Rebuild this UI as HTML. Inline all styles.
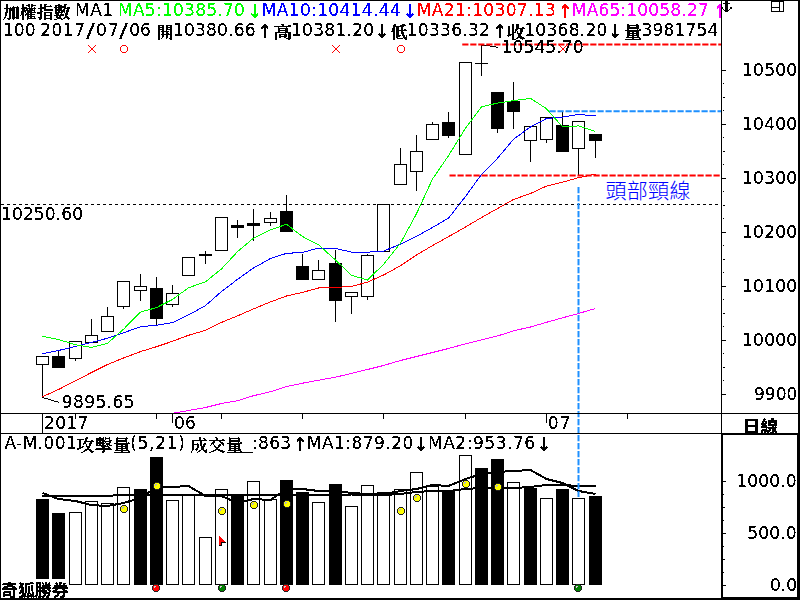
<!DOCTYPE html>
<html><head><meta charset="utf-8"><title>加權指數</title>
<style>html,body{margin:0;padding:0;background:#fff;overflow:hidden}svg{display:block}</style>
</head><body>
<svg width="800" height="600" viewBox="0 0 800 600">
<rect x="0" y="0" width="800" height="600" fill="#fff"/>
<g shape-rendering="crispEdges">
<rect x="36" y="499" width="13" height="86" fill="#000"/>
<rect x="52" y="513" width="13" height="72" fill="#000"/>
<rect x="69.5" y="512.5" width="12" height="72" fill="#fff" stroke="#000" stroke-width="1"/>
<rect x="85.5" y="501.5" width="12" height="83" fill="#fff" stroke="#000" stroke-width="1"/>
<rect x="101.5" y="503.5" width="12" height="81" fill="#fff" stroke="#000" stroke-width="1"/>
<rect x="117.5" y="487.5" width="12" height="97" fill="#fff" stroke="#000" stroke-width="1"/>
<rect x="134" y="489" width="13" height="96" fill="#000"/>
<rect x="150" y="457" width="13" height="128" fill="#000"/>
<rect x="166.5" y="500.5" width="12" height="84" fill="#fff" stroke="#000" stroke-width="1"/>
<rect x="182.5" y="495.5" width="12" height="89" fill="#fff" stroke="#000" stroke-width="1"/>
<rect x="199.5" y="537.5" width="12" height="47" fill="#fff" stroke="#000" stroke-width="1"/>
<rect x="215.5" y="489.5" width="12" height="95" fill="#fff" stroke="#000" stroke-width="1"/>
<rect x="231" y="494" width="13" height="91" fill="#000"/>
<rect x="247.5" y="481.5" width="12" height="103" fill="#fff" stroke="#000" stroke-width="1"/>
<rect x="264.5" y="499.5" width="12" height="85" fill="#fff" stroke="#000" stroke-width="1"/>
<rect x="280" y="480" width="13" height="105" fill="#000"/>
<rect x="296" y="492" width="13" height="93" fill="#000"/>
<rect x="312.5" y="502.5" width="12" height="82" fill="#fff" stroke="#000" stroke-width="1"/>
<rect x="329" y="484" width="13" height="101" fill="#000"/>
<rect x="345.5" y="506.5" width="12" height="78" fill="#fff" stroke="#000" stroke-width="1"/>
<rect x="361.5" y="485.5" width="12" height="99" fill="#fff" stroke="#000" stroke-width="1"/>
<rect x="377.5" y="492.5" width="12" height="92" fill="#fff" stroke="#000" stroke-width="1"/>
<rect x="394.5" y="489.5" width="12" height="95" fill="#fff" stroke="#000" stroke-width="1"/>
<rect x="410.5" y="472.5" width="12" height="112" fill="#fff" stroke="#000" stroke-width="1"/>
<rect x="426.5" y="486.5" width="12" height="98" fill="#fff" stroke="#000" stroke-width="1"/>
<rect x="442" y="491" width="13" height="94" fill="#000"/>
<rect x="459.5" y="455.5" width="12" height="129" fill="#fff" stroke="#000" stroke-width="1"/>
<rect x="475" y="468" width="13" height="117" fill="#000"/>
<rect x="491" y="459" width="13" height="126" fill="#000"/>
<rect x="507.5" y="482.5" width="12" height="102" fill="#fff" stroke="#000" stroke-width="1"/>
<rect x="524" y="488" width="13" height="97" fill="#000"/>
<rect x="540.5" y="498.5" width="12" height="86" fill="#fff" stroke="#000" stroke-width="1"/>
<rect x="556" y="489" width="13" height="96" fill="#000"/>
<rect x="572.5" y="498.5" width="12" height="86" fill="#fff" stroke="#000" stroke-width="1"/>
<rect x="589" y="496" width="13" height="89" fill="#000"/>
</g>
<polyline points="42.5,496 58.5,495.8 75.5,495.8 91.5,495.8 107.5,495.8 123.5,494.9 140.5,494.9 156.5,494.9 172.5,494.9 188.5,494.9 205.5,495.1 221.5,494.9 237.5,494.9 253.5,494.9 270.5,494.9 286.5,495.1 302.5,495.1 318.5,495.1 335.5,495.1 351.5,494.5 367.5,495 383.5,495 400.5,494 416.5,492 432.5,491 448.5,491 465.5,489 481.5,488 497.5,488 513.5,488 530.5,487 546.5,485 562.5,485 578.5,486 595.5,486" fill="none" stroke="#000" stroke-width="2" shape-rendering="crispEdges"/>
<polyline points="42.5,493 58.5,499 75.5,501.0 91.5,505.1 107.5,506 123.5,503 140.5,498 156.5,487 172.5,487 188.5,486 205.5,496 221.5,496 237.5,503 253.5,499 270.5,500 286.5,489 302.5,489 318.5,491 335.5,491 351.5,493 367.5,494 383.5,494 400.5,491 416.5,489 432.5,485 448.5,486 465.5,479 481.5,474 497.5,472 513.5,471 530.5,470 546.5,479 562.5,483 578.5,491 595.5,494" fill="none" stroke="#000" stroke-width="2" shape-rendering="crispEdges"/>
<path d="M122,506h1v1h-1zM123,506h1v1h-1zM124,506h1v1h-1zM125,506h1v1h-1zM121,507h1v1h-1zM122,507h1v1h-1zM123,507h1v1h-1zM124,507h1v1h-1zM125,507h1v1h-1zM126,507h1v1h-1zM121,508h1v1h-1zM122,508h1v1h-1zM123,508h1v1h-1zM124,508h1v1h-1zM125,508h1v1h-1zM126,508h1v1h-1zM121,509h1v1h-1zM122,509h1v1h-1zM123,509h1v1h-1zM124,509h1v1h-1zM125,509h1v1h-1zM126,509h1v1h-1zM121,510h1v1h-1zM122,510h1v1h-1zM123,510h1v1h-1zM124,510h1v1h-1zM125,510h1v1h-1zM126,510h1v1h-1zM122,511h1v1h-1zM123,511h1v1h-1zM124,511h1v1h-1zM125,511h1v1h-1z" fill="#ffff00" shape-rendering="crispEdges"/>
<path d="M122,505h1v1h-1zM123,505h1v1h-1zM124,505h1v1h-1zM125,505h1v1h-1zM121,506h1v1h-1zM126,506h1v1h-1zM120,507h1v1h-1zM127,507h1v1h-1zM120,508h1v1h-1zM127,508h1v1h-1zM120,509h1v1h-1zM127,509h1v1h-1zM120,510h1v1h-1zM127,510h1v1h-1zM121,511h1v1h-1zM126,511h1v1h-1zM122,512h1v1h-1zM123,512h1v1h-1zM124,512h1v1h-1zM125,512h1v1h-1z" fill="#202020" shape-rendering="crispEdges"/>
<path d="M122,507h2v1h-1v1h-1z" fill="#a8a8e0" shape-rendering="crispEdges"/>
<path d="M155,483h1v1h-1zM156,483h1v1h-1zM157,483h1v1h-1zM158,483h1v1h-1zM154,484h1v1h-1zM155,484h1v1h-1zM156,484h1v1h-1zM157,484h1v1h-1zM158,484h1v1h-1zM159,484h1v1h-1zM154,485h1v1h-1zM155,485h1v1h-1zM156,485h1v1h-1zM157,485h1v1h-1zM158,485h1v1h-1zM159,485h1v1h-1zM154,486h1v1h-1zM155,486h1v1h-1zM156,486h1v1h-1zM157,486h1v1h-1zM158,486h1v1h-1zM159,486h1v1h-1zM154,487h1v1h-1zM155,487h1v1h-1zM156,487h1v1h-1zM157,487h1v1h-1zM158,487h1v1h-1zM159,487h1v1h-1zM155,488h1v1h-1zM156,488h1v1h-1zM157,488h1v1h-1zM158,488h1v1h-1z" fill="#ffff00" shape-rendering="crispEdges"/>
<path d="M155,482h1v1h-1zM156,482h1v1h-1zM157,482h1v1h-1zM158,482h1v1h-1zM154,483h1v1h-1zM159,483h1v1h-1zM153,484h1v1h-1zM160,484h1v1h-1zM153,485h1v1h-1zM160,485h1v1h-1zM153,486h1v1h-1zM160,486h1v1h-1zM153,487h1v1h-1zM160,487h1v1h-1zM154,488h1v1h-1zM159,488h1v1h-1zM155,489h1v1h-1zM156,489h1v1h-1zM157,489h1v1h-1zM158,489h1v1h-1z" fill="#202020" shape-rendering="crispEdges"/>
<path d="M155,484h2v1h-1v1h-1z" fill="#a8a8e0" shape-rendering="crispEdges"/>
<path d="M220,508h1v1h-1zM221,508h1v1h-1zM222,508h1v1h-1zM223,508h1v1h-1zM219,509h1v1h-1zM220,509h1v1h-1zM221,509h1v1h-1zM222,509h1v1h-1zM223,509h1v1h-1zM224,509h1v1h-1zM219,510h1v1h-1zM220,510h1v1h-1zM221,510h1v1h-1zM222,510h1v1h-1zM223,510h1v1h-1zM224,510h1v1h-1zM219,511h1v1h-1zM220,511h1v1h-1zM221,511h1v1h-1zM222,511h1v1h-1zM223,511h1v1h-1zM224,511h1v1h-1zM219,512h1v1h-1zM220,512h1v1h-1zM221,512h1v1h-1zM222,512h1v1h-1zM223,512h1v1h-1zM224,512h1v1h-1zM220,513h1v1h-1zM221,513h1v1h-1zM222,513h1v1h-1zM223,513h1v1h-1z" fill="#ffff00" shape-rendering="crispEdges"/>
<path d="M220,507h1v1h-1zM221,507h1v1h-1zM222,507h1v1h-1zM223,507h1v1h-1zM219,508h1v1h-1zM224,508h1v1h-1zM218,509h1v1h-1zM225,509h1v1h-1zM218,510h1v1h-1zM225,510h1v1h-1zM218,511h1v1h-1zM225,511h1v1h-1zM218,512h1v1h-1zM225,512h1v1h-1zM219,513h1v1h-1zM224,513h1v1h-1zM220,514h1v1h-1zM221,514h1v1h-1zM222,514h1v1h-1zM223,514h1v1h-1z" fill="#202020" shape-rendering="crispEdges"/>
<path d="M220,509h2v1h-1v1h-1z" fill="#a8a8e0" shape-rendering="crispEdges"/>
<path d="M252,502h1v1h-1zM253,502h1v1h-1zM254,502h1v1h-1zM255,502h1v1h-1zM251,503h1v1h-1zM252,503h1v1h-1zM253,503h1v1h-1zM254,503h1v1h-1zM255,503h1v1h-1zM256,503h1v1h-1zM251,504h1v1h-1zM252,504h1v1h-1zM253,504h1v1h-1zM254,504h1v1h-1zM255,504h1v1h-1zM256,504h1v1h-1zM251,505h1v1h-1zM252,505h1v1h-1zM253,505h1v1h-1zM254,505h1v1h-1zM255,505h1v1h-1zM256,505h1v1h-1zM251,506h1v1h-1zM252,506h1v1h-1zM253,506h1v1h-1zM254,506h1v1h-1zM255,506h1v1h-1zM256,506h1v1h-1zM252,507h1v1h-1zM253,507h1v1h-1zM254,507h1v1h-1zM255,507h1v1h-1z" fill="#ffff00" shape-rendering="crispEdges"/>
<path d="M252,501h1v1h-1zM253,501h1v1h-1zM254,501h1v1h-1zM255,501h1v1h-1zM251,502h1v1h-1zM256,502h1v1h-1zM250,503h1v1h-1zM257,503h1v1h-1zM250,504h1v1h-1zM257,504h1v1h-1zM250,505h1v1h-1zM257,505h1v1h-1zM250,506h1v1h-1zM257,506h1v1h-1zM251,507h1v1h-1zM256,507h1v1h-1zM252,508h1v1h-1zM253,508h1v1h-1zM254,508h1v1h-1zM255,508h1v1h-1z" fill="#202020" shape-rendering="crispEdges"/>
<path d="M252,503h2v1h-1v1h-1z" fill="#a8a8e0" shape-rendering="crispEdges"/>
<path d="M285,501h1v1h-1zM286,501h1v1h-1zM287,501h1v1h-1zM288,501h1v1h-1zM284,502h1v1h-1zM285,502h1v1h-1zM286,502h1v1h-1zM287,502h1v1h-1zM288,502h1v1h-1zM289,502h1v1h-1zM284,503h1v1h-1zM285,503h1v1h-1zM286,503h1v1h-1zM287,503h1v1h-1zM288,503h1v1h-1zM289,503h1v1h-1zM284,504h1v1h-1zM285,504h1v1h-1zM286,504h1v1h-1zM287,504h1v1h-1zM288,504h1v1h-1zM289,504h1v1h-1zM284,505h1v1h-1zM285,505h1v1h-1zM286,505h1v1h-1zM287,505h1v1h-1zM288,505h1v1h-1zM289,505h1v1h-1zM285,506h1v1h-1zM286,506h1v1h-1zM287,506h1v1h-1zM288,506h1v1h-1z" fill="#ffff00" shape-rendering="crispEdges"/>
<path d="M285,500h1v1h-1zM286,500h1v1h-1zM287,500h1v1h-1zM288,500h1v1h-1zM284,501h1v1h-1zM289,501h1v1h-1zM283,502h1v1h-1zM290,502h1v1h-1zM283,503h1v1h-1zM290,503h1v1h-1zM283,504h1v1h-1zM290,504h1v1h-1zM283,505h1v1h-1zM290,505h1v1h-1zM284,506h1v1h-1zM289,506h1v1h-1zM285,507h1v1h-1zM286,507h1v1h-1zM287,507h1v1h-1zM288,507h1v1h-1z" fill="#202020" shape-rendering="crispEdges"/>
<path d="M285,502h2v1h-1v1h-1z" fill="#a8a8e0" shape-rendering="crispEdges"/>
<path d="M399,508h1v1h-1zM400,508h1v1h-1zM401,508h1v1h-1zM402,508h1v1h-1zM398,509h1v1h-1zM399,509h1v1h-1zM400,509h1v1h-1zM401,509h1v1h-1zM402,509h1v1h-1zM403,509h1v1h-1zM398,510h1v1h-1zM399,510h1v1h-1zM400,510h1v1h-1zM401,510h1v1h-1zM402,510h1v1h-1zM403,510h1v1h-1zM398,511h1v1h-1zM399,511h1v1h-1zM400,511h1v1h-1zM401,511h1v1h-1zM402,511h1v1h-1zM403,511h1v1h-1zM398,512h1v1h-1zM399,512h1v1h-1zM400,512h1v1h-1zM401,512h1v1h-1zM402,512h1v1h-1zM403,512h1v1h-1zM399,513h1v1h-1zM400,513h1v1h-1zM401,513h1v1h-1zM402,513h1v1h-1z" fill="#ffff00" shape-rendering="crispEdges"/>
<path d="M399,507h1v1h-1zM400,507h1v1h-1zM401,507h1v1h-1zM402,507h1v1h-1zM398,508h1v1h-1zM403,508h1v1h-1zM397,509h1v1h-1zM404,509h1v1h-1zM397,510h1v1h-1zM404,510h1v1h-1zM397,511h1v1h-1zM404,511h1v1h-1zM397,512h1v1h-1zM404,512h1v1h-1zM398,513h1v1h-1zM403,513h1v1h-1zM399,514h1v1h-1zM400,514h1v1h-1zM401,514h1v1h-1zM402,514h1v1h-1z" fill="#202020" shape-rendering="crispEdges"/>
<path d="M399,509h2v1h-1v1h-1z" fill="#a8a8e0" shape-rendering="crispEdges"/>
<path d="M415,495h1v1h-1zM416,495h1v1h-1zM417,495h1v1h-1zM418,495h1v1h-1zM414,496h1v1h-1zM415,496h1v1h-1zM416,496h1v1h-1zM417,496h1v1h-1zM418,496h1v1h-1zM419,496h1v1h-1zM414,497h1v1h-1zM415,497h1v1h-1zM416,497h1v1h-1zM417,497h1v1h-1zM418,497h1v1h-1zM419,497h1v1h-1zM414,498h1v1h-1zM415,498h1v1h-1zM416,498h1v1h-1zM417,498h1v1h-1zM418,498h1v1h-1zM419,498h1v1h-1zM414,499h1v1h-1zM415,499h1v1h-1zM416,499h1v1h-1zM417,499h1v1h-1zM418,499h1v1h-1zM419,499h1v1h-1zM415,500h1v1h-1zM416,500h1v1h-1zM417,500h1v1h-1zM418,500h1v1h-1z" fill="#ffff00" shape-rendering="crispEdges"/>
<path d="M415,494h1v1h-1zM416,494h1v1h-1zM417,494h1v1h-1zM418,494h1v1h-1zM414,495h1v1h-1zM419,495h1v1h-1zM413,496h1v1h-1zM420,496h1v1h-1zM413,497h1v1h-1zM420,497h1v1h-1zM413,498h1v1h-1zM420,498h1v1h-1zM413,499h1v1h-1zM420,499h1v1h-1zM414,500h1v1h-1zM419,500h1v1h-1zM415,501h1v1h-1zM416,501h1v1h-1zM417,501h1v1h-1zM418,501h1v1h-1z" fill="#202020" shape-rendering="crispEdges"/>
<path d="M415,496h2v1h-1v1h-1z" fill="#a8a8e0" shape-rendering="crispEdges"/>
<path d="M464,481h1v1h-1zM465,481h1v1h-1zM466,481h1v1h-1zM467,481h1v1h-1zM463,482h1v1h-1zM464,482h1v1h-1zM465,482h1v1h-1zM466,482h1v1h-1zM467,482h1v1h-1zM468,482h1v1h-1zM463,483h1v1h-1zM464,483h1v1h-1zM465,483h1v1h-1zM466,483h1v1h-1zM467,483h1v1h-1zM468,483h1v1h-1zM463,484h1v1h-1zM464,484h1v1h-1zM465,484h1v1h-1zM466,484h1v1h-1zM467,484h1v1h-1zM468,484h1v1h-1zM463,485h1v1h-1zM464,485h1v1h-1zM465,485h1v1h-1zM466,485h1v1h-1zM467,485h1v1h-1zM468,485h1v1h-1zM464,486h1v1h-1zM465,486h1v1h-1zM466,486h1v1h-1zM467,486h1v1h-1z" fill="#ffff00" shape-rendering="crispEdges"/>
<path d="M464,480h1v1h-1zM465,480h1v1h-1zM466,480h1v1h-1zM467,480h1v1h-1zM463,481h1v1h-1zM468,481h1v1h-1zM462,482h1v1h-1zM469,482h1v1h-1zM462,483h1v1h-1zM469,483h1v1h-1zM462,484h1v1h-1zM469,484h1v1h-1zM462,485h1v1h-1zM469,485h1v1h-1zM463,486h1v1h-1zM468,486h1v1h-1zM464,487h1v1h-1zM465,487h1v1h-1zM466,487h1v1h-1zM467,487h1v1h-1z" fill="#202020" shape-rendering="crispEdges"/>
<path d="M464,482h2v1h-1v1h-1z" fill="#a8a8e0" shape-rendering="crispEdges"/>
<path d="M496,484h1v1h-1zM497,484h1v1h-1zM498,484h1v1h-1zM499,484h1v1h-1zM495,485h1v1h-1zM496,485h1v1h-1zM497,485h1v1h-1zM498,485h1v1h-1zM499,485h1v1h-1zM500,485h1v1h-1zM495,486h1v1h-1zM496,486h1v1h-1zM497,486h1v1h-1zM498,486h1v1h-1zM499,486h1v1h-1zM500,486h1v1h-1zM495,487h1v1h-1zM496,487h1v1h-1zM497,487h1v1h-1zM498,487h1v1h-1zM499,487h1v1h-1zM500,487h1v1h-1zM495,488h1v1h-1zM496,488h1v1h-1zM497,488h1v1h-1zM498,488h1v1h-1zM499,488h1v1h-1zM500,488h1v1h-1zM496,489h1v1h-1zM497,489h1v1h-1zM498,489h1v1h-1zM499,489h1v1h-1z" fill="#ffff00" shape-rendering="crispEdges"/>
<path d="M496,483h1v1h-1zM497,483h1v1h-1zM498,483h1v1h-1zM499,483h1v1h-1zM495,484h1v1h-1zM500,484h1v1h-1zM494,485h1v1h-1zM501,485h1v1h-1zM494,486h1v1h-1zM501,486h1v1h-1zM494,487h1v1h-1zM501,487h1v1h-1zM494,488h1v1h-1zM501,488h1v1h-1zM495,489h1v1h-1zM500,489h1v1h-1zM496,490h1v1h-1zM497,490h1v1h-1zM498,490h1v1h-1zM499,490h1v1h-1z" fill="#202020" shape-rendering="crispEdges"/>
<path d="M496,485h2v1h-1v1h-1z" fill="#a8a8e0" shape-rendering="crispEdges"/>
<path d="M154,585h1v1h-1zM155,585h1v1h-1zM156,585h1v1h-1zM157,585h1v1h-1zM153,586h1v1h-1zM154,586h1v1h-1zM155,586h1v1h-1zM156,586h1v1h-1zM157,586h1v1h-1zM158,586h1v1h-1zM153,587h1v1h-1zM154,587h1v1h-1zM155,587h1v1h-1zM156,587h1v1h-1zM157,587h1v1h-1zM158,587h1v1h-1zM153,588h1v1h-1zM154,588h1v1h-1zM155,588h1v1h-1zM156,588h1v1h-1zM157,588h1v1h-1zM158,588h1v1h-1zM153,589h1v1h-1zM154,589h1v1h-1zM155,589h1v1h-1zM156,589h1v1h-1zM157,589h1v1h-1zM158,589h1v1h-1zM154,590h1v1h-1zM155,590h1v1h-1zM156,590h1v1h-1zM157,590h1v1h-1z" fill="#ff0000" shape-rendering="crispEdges"/>
<path d="M154,584h1v1h-1zM155,584h1v1h-1zM156,584h1v1h-1zM157,584h1v1h-1zM153,585h1v1h-1zM158,585h1v1h-1zM152,586h1v1h-1zM159,586h1v1h-1zM152,587h1v1h-1zM159,587h1v1h-1zM152,588h1v1h-1zM159,588h1v1h-1zM152,589h1v1h-1zM159,589h1v1h-1zM153,590h1v1h-1zM158,590h1v1h-1zM154,591h1v1h-1zM155,591h1v1h-1zM156,591h1v1h-1zM157,591h1v1h-1z" fill="#202020" shape-rendering="crispEdges"/>
<path d="M154,586h2v1h-1v1h-1z" fill="#b0e0e0" shape-rendering="crispEdges"/>
<path d="M284,585h1v1h-1zM285,585h1v1h-1zM286,585h1v1h-1zM287,585h1v1h-1zM283,586h1v1h-1zM284,586h1v1h-1zM285,586h1v1h-1zM286,586h1v1h-1zM287,586h1v1h-1zM288,586h1v1h-1zM283,587h1v1h-1zM284,587h1v1h-1zM285,587h1v1h-1zM286,587h1v1h-1zM287,587h1v1h-1zM288,587h1v1h-1zM283,588h1v1h-1zM284,588h1v1h-1zM285,588h1v1h-1zM286,588h1v1h-1zM287,588h1v1h-1zM288,588h1v1h-1zM283,589h1v1h-1zM284,589h1v1h-1zM285,589h1v1h-1zM286,589h1v1h-1zM287,589h1v1h-1zM288,589h1v1h-1zM284,590h1v1h-1zM285,590h1v1h-1zM286,590h1v1h-1zM287,590h1v1h-1z" fill="#ff0000" shape-rendering="crispEdges"/>
<path d="M284,584h1v1h-1zM285,584h1v1h-1zM286,584h1v1h-1zM287,584h1v1h-1zM283,585h1v1h-1zM288,585h1v1h-1zM282,586h1v1h-1zM289,586h1v1h-1zM282,587h1v1h-1zM289,587h1v1h-1zM282,588h1v1h-1zM289,588h1v1h-1zM282,589h1v1h-1zM289,589h1v1h-1zM283,590h1v1h-1zM288,590h1v1h-1zM284,591h1v1h-1zM285,591h1v1h-1zM286,591h1v1h-1zM287,591h1v1h-1z" fill="#202020" shape-rendering="crispEdges"/>
<path d="M284,586h2v1h-1v1h-1z" fill="#b0e0e0" shape-rendering="crispEdges"/>
<path d="M220,585h1v1h-1zM221,585h1v1h-1zM222,585h1v1h-1zM223,585h1v1h-1zM219,586h1v1h-1zM220,586h1v1h-1zM221,586h1v1h-1zM222,586h1v1h-1zM223,586h1v1h-1zM224,586h1v1h-1zM219,587h1v1h-1zM220,587h1v1h-1zM221,587h1v1h-1zM222,587h1v1h-1zM223,587h1v1h-1zM224,587h1v1h-1zM219,588h1v1h-1zM220,588h1v1h-1zM221,588h1v1h-1zM222,588h1v1h-1zM223,588h1v1h-1zM224,588h1v1h-1zM219,589h1v1h-1zM220,589h1v1h-1zM221,589h1v1h-1zM222,589h1v1h-1zM223,589h1v1h-1zM224,589h1v1h-1zM220,590h1v1h-1zM221,590h1v1h-1zM222,590h1v1h-1zM223,590h1v1h-1z" fill="#008000" shape-rendering="crispEdges"/>
<path d="M220,584h1v1h-1zM221,584h1v1h-1zM222,584h1v1h-1zM223,584h1v1h-1zM219,585h1v1h-1zM224,585h1v1h-1zM218,586h1v1h-1zM225,586h1v1h-1zM218,587h1v1h-1zM225,587h1v1h-1zM218,588h1v1h-1zM225,588h1v1h-1zM218,589h1v1h-1zM225,589h1v1h-1zM219,590h1v1h-1zM224,590h1v1h-1zM220,591h1v1h-1zM221,591h1v1h-1zM222,591h1v1h-1zM223,591h1v1h-1z" fill="#202020" shape-rendering="crispEdges"/>
<path d="M220,586h2v1h-1v1h-1z" fill="#e0c0e0" shape-rendering="crispEdges"/>
<path d="M576,585h1v1h-1zM577,585h1v1h-1zM578,585h1v1h-1zM579,585h1v1h-1zM575,586h1v1h-1zM576,586h1v1h-1zM577,586h1v1h-1zM578,586h1v1h-1zM579,586h1v1h-1zM580,586h1v1h-1zM575,587h1v1h-1zM576,587h1v1h-1zM577,587h1v1h-1zM578,587h1v1h-1zM579,587h1v1h-1zM580,587h1v1h-1zM575,588h1v1h-1zM576,588h1v1h-1zM577,588h1v1h-1zM578,588h1v1h-1zM579,588h1v1h-1zM580,588h1v1h-1zM575,589h1v1h-1zM576,589h1v1h-1zM577,589h1v1h-1zM578,589h1v1h-1zM579,589h1v1h-1zM580,589h1v1h-1zM576,590h1v1h-1zM577,590h1v1h-1zM578,590h1v1h-1zM579,590h1v1h-1z" fill="#008000" shape-rendering="crispEdges"/>
<path d="M576,584h1v1h-1zM577,584h1v1h-1zM578,584h1v1h-1zM579,584h1v1h-1zM575,585h1v1h-1zM580,585h1v1h-1zM574,586h1v1h-1zM581,586h1v1h-1zM574,587h1v1h-1zM581,587h1v1h-1zM574,588h1v1h-1zM581,588h1v1h-1zM574,589h1v1h-1zM581,589h1v1h-1zM575,590h1v1h-1zM580,590h1v1h-1zM576,591h1v1h-1zM577,591h1v1h-1zM578,591h1v1h-1zM579,591h1v1h-1z" fill="#202020" shape-rendering="crispEdges"/>
<path d="M576,586h2v1h-1v1h-1z" fill="#e0c0e0" shape-rendering="crispEdges"/>
<path d="M219,536h1v1h-1zM219,537h2v1h-2zM219,538h3v1h-3zM219,539h4v1h-4zM219,540h5v1h-5zM219,541h6v1h-6zM219,542h2v3h-2z" fill="#ff0000" shape-rendering="crispEdges"/>
<path d="M221,542h5v1h-4v3h-3v-1h2z" fill="#000" shape-rendering="crispEdges"/>
<rect x="1" y="579" width="68" height="19" fill="#fff"/>
<g shape-rendering="crispEdges">
<rect x="42" y="365" width="1" height="33" fill="#000"/>
<rect x="36.5" y="356.5" width="12" height="8" fill="#fff" stroke="#000"/>
<rect x="58" y="350" width="1" height="6" fill="#000"/>
<rect x="52" y="356" width="13" height="12" fill="#000"/>
<rect x="75" y="359" width="1" height="2" fill="#000"/>
<rect x="69.5" y="341.5" width="12" height="17" fill="#fff" stroke="#000"/>
<rect x="91" y="319" width="1" height="16" fill="#000"/>
<rect x="85.5" y="335.5" width="12" height="7" fill="#fff" stroke="#000"/>
<rect x="107" y="307" width="1" height="9" fill="#000"/>
<rect x="101.5" y="316.5" width="12" height="15" fill="#fff" stroke="#000"/>
<rect x="123" y="307" width="1" height="2" fill="#000"/>
<rect x="117.5" y="281.5" width="12" height="25" fill="#fff" stroke="#000"/>
<rect x="140" y="274" width="1" height="12" fill="#000"/>
<rect x="140" y="291" width="1" height="10" fill="#000"/>
<rect x="134.5" y="286.5" width="12" height="4" fill="#fff" stroke="#000"/>
<rect x="156" y="277" width="1" height="11" fill="#000"/>
<rect x="156" y="319" width="1" height="7" fill="#000"/>
<rect x="150" y="288" width="13" height="31" fill="#000"/>
<rect x="172" y="285" width="1" height="8" fill="#000"/>
<rect x="172" y="305" width="1" height="2" fill="#000"/>
<rect x="166.5" y="293.5" width="12" height="11" fill="#fff" stroke="#000"/>
<rect x="182.5" y="257.5" width="12" height="18" fill="#fff" stroke="#000"/>
<rect x="205" y="251" width="1" height="3" fill="#000"/>
<rect x="205" y="256" width="1" height="8" fill="#000"/>
<rect x="199" y="254" width="13" height="2" fill="#000"/>
<rect x="215.5" y="217.5" width="12" height="33" fill="#fff" stroke="#000"/>
<rect x="237" y="220" width="1" height="5" fill="#000"/>
<rect x="237" y="228" width="1" height="10" fill="#000"/>
<rect x="231" y="225" width="13" height="3" fill="#000"/>
<rect x="253" y="209" width="1" height="14" fill="#000"/>
<rect x="253" y="226" width="1" height="15" fill="#000"/>
<rect x="247" y="223" width="13" height="3" fill="#000"/>
<rect x="270" y="212" width="1" height="6" fill="#000"/>
<rect x="270" y="223" width="1" height="3" fill="#000"/>
<rect x="264.5" y="218.5" width="12" height="4" fill="#fff" stroke="#000"/>
<rect x="286" y="195" width="1" height="16" fill="#000"/>
<rect x="280" y="211" width="13" height="21" fill="#000"/>
<rect x="302" y="254" width="1" height="12" fill="#000"/>
<rect x="296" y="266" width="13" height="14" fill="#000"/>
<rect x="318" y="260" width="1" height="10" fill="#000"/>
<rect x="312.5" y="270.5" width="12" height="9" fill="#fff" stroke="#000"/>
<rect x="335" y="250" width="1" height="13" fill="#000"/>
<rect x="335" y="301" width="1" height="21" fill="#000"/>
<rect x="329" y="263" width="13" height="38" fill="#000"/>
<rect x="351" y="297" width="1" height="17" fill="#000"/>
<rect x="345.5" y="292.5" width="12" height="4" fill="#fff" stroke="#000"/>
<rect x="367" y="254" width="1" height="1" fill="#000"/>
<rect x="367" y="297" width="1" height="3" fill="#000"/>
<rect x="361.5" y="255.5" width="12" height="41" fill="#fff" stroke="#000"/>
<rect x="377.5" y="204.5" width="12" height="47" fill="#fff" stroke="#000"/>
<rect x="400" y="148" width="1" height="16" fill="#000"/>
<rect x="394.5" y="164.5" width="12" height="20" fill="#fff" stroke="#000"/>
<rect x="416" y="135" width="1" height="16" fill="#000"/>
<rect x="416" y="172" width="1" height="19" fill="#000"/>
<rect x="410.5" y="151.5" width="12" height="20" fill="#fff" stroke="#000"/>
<rect x="432" y="122" width="1" height="2" fill="#000"/>
<rect x="426.5" y="124.5" width="12" height="15" fill="#fff" stroke="#000"/>
<rect x="448" y="112" width="1" height="10" fill="#000"/>
<rect x="448" y="136" width="1" height="2" fill="#000"/>
<rect x="442" y="122" width="13" height="14" fill="#000"/>
<rect x="459.5" y="62.5" width="12" height="92" fill="#fff" stroke="#000"/>
<rect x="481" y="45" width="1" height="18" fill="#000"/>
<rect x="481" y="64" width="1" height="12" fill="#000"/>
<rect x="475" y="63" width="13" height="1" fill="#000"/>
<rect x="497" y="129" width="1" height="4" fill="#000"/>
<rect x="491" y="92" width="13" height="37" fill="#000"/>
<rect x="513" y="82" width="1" height="19" fill="#000"/>
<rect x="513" y="112" width="1" height="17" fill="#000"/>
<rect x="507" y="101" width="13" height="11" fill="#000"/>
<rect x="530" y="141" width="1" height="21" fill="#000"/>
<rect x="524.5" y="126.5" width="12" height="14" fill="#fff" stroke="#000"/>
<rect x="546" y="140" width="1" height="3" fill="#000"/>
<rect x="540.5" y="117.5" width="12" height="22" fill="#fff" stroke="#000"/>
<rect x="562" y="111" width="1" height="14" fill="#000"/>
<rect x="556" y="125" width="13" height="27" fill="#000"/>
<rect x="578" y="149" width="1" height="27" fill="#000"/>
<rect x="572.5" y="121.5" width="12" height="27" fill="#fff" stroke="#000"/>
<rect x="595" y="141" width="1" height="17" fill="#000"/>
<rect x="589" y="134" width="13" height="7" fill="#000"/>
</g>
<polyline points="172.5,413.3 188.5,410.5 205.5,407.5 221.5,403.5 237.5,400.7 253.5,395.7 270.5,391.7 286.5,386.6 302.5,383.2 318.5,380.2 335.5,377.2 351.5,373.4 367.5,369.5 383.5,365.5 400.5,360.5 416.5,356.5 432.5,352.5 448.5,348.5 465.5,343.8 481.5,339.8 497.5,336 513.5,330.8 530.5,327 546.5,322.3 562.5,317.8 578.5,313.5 595.5,308.5" fill="none" stroke="#ff00ff" stroke-width="1" shape-rendering="crispEdges"/>
<polyline points="42.5,396.7 58.5,389.5 75.5,380.8 91.5,372.5 107.5,364.5 123.5,358 140.5,351.6 156.5,346.7 172.5,341.3 188.5,335.3 205.5,330.3 221.5,322.4 237.5,315.9 253.5,308.9 270.5,301.9 286.5,296 302.5,292.4 318.5,288 335.5,287.4 351.5,286.4 367.5,282.17857142857144 383.5,275.0595238095238 400.5,265.7261904761905 416.5,255.05238095238096 432.5,245.5285714285714 448.5,236.6690476190476 465.5,226.95476190476188 481.5,217.5952380952381 497.5,208.52142857142857 513.5,199.48809523809524 530.5,193.46904761904761 546.5,186.08333333333331 562.5,182.21190476190475 578.5,177.68809523809523 595.5,174.1642857142857" fill="none" stroke="#ff0000" stroke-width="1" shape-rendering="crispEdges"/>
<polyline points="42.5,353.7 58.5,350.5 75.5,346.4 91.5,342.5 107.5,338.2 123.5,332.8 140.5,326.8 156.5,325.2 172.5,322.6 188.5,314.95 205.5,305.6 221.5,291.5 237.5,279.35 253.5,268.0 270.5,258.5 286.5,253.35 302.5,252.45 318.5,248.05 335.5,248.4 351.5,252.15 367.5,252.15 383.5,251.1 400.5,244.15 416.5,236.45 432.5,227.4 448.5,218.2 465.5,196.45 481.5,174.35 497.5,158.3 513.5,139.25 530.5,126.94999999999999 546.5,118.55 562.5,117.05 578.5,114.4 595.5,116.0" fill="none" stroke="#0000ff" stroke-width="1" shape-rendering="crispEdges"/>
<polyline points="42.5,336.2 58.5,339.5 75.5,344.7 91.5,347.5 107.5,343.25 123.5,329.25 140.5,312.05 156.5,307.6 172.5,299.5 188.5,287.75 205.5,281.8 221.5,268.9 237.5,251.65 253.5,238.14999999999998 270.5,229.85000000000002 286.5,224.25 302.5,236.55 318.5,244.75 335.5,260.05 351.5,275.25 367.5,280.04999999999995 383.5,264.35 400.5,243.25 416.5,213.7 432.5,179.05 448.5,155.7 465.5,128.2 481.5,106.8 497.5,103.1 513.5,100.65 530.5,98.35 546.5,108.75 562.5,126.85 578.5,125.95 595.5,131.4" fill="none" stroke="#00ff00" stroke-width="1" shape-rendering="crispEdges"/>
<g shape-rendering="crispEdges">
<line x1="1" y1="204.5" x2="721" y2="204.5" stroke="#000" stroke-width="1" stroke-dasharray="3,3"/>
</g>
<polyline points="42.5,397.5 59.5,402.5" stroke="#000" stroke-width="1" fill="none" shape-rendering="crispEdges"/>
<polyline points="481.5,45.5 490,46 498.5,47.5" stroke="#000" stroke-width="1" fill="none" shape-rendering="crispEdges"/>
<path d="M88,45h1v1h-1zM95,45h1v1h-1zM89,46h1v1h-1zM94,46h1v1h-1zM90,47h1v1h-1zM93,47h1v1h-1zM91,48h1v1h-1zM92,48h1v1h-1zM92,49h1v1h-1zM91,49h1v1h-1zM93,50h1v1h-1zM90,50h1v1h-1zM94,51h1v1h-1zM89,51h1v1h-1zM95,52h1v1h-1zM88,52h1v1h-1z" fill="#ff0000" shape-rendering="crispEdges"/>
<path d="M122,45h1v1h-1zM123,45h1v1h-1zM124,45h1v1h-1zM125,45h1v1h-1zM121,46h1v1h-1zM126,46h1v1h-1zM120,47h1v1h-1zM127,47h1v1h-1zM120,48h1v1h-1zM127,48h1v1h-1zM120,49h1v1h-1zM127,49h1v1h-1zM120,50h1v1h-1zM127,50h1v1h-1zM121,51h1v1h-1zM126,51h1v1h-1zM122,52h1v1h-1zM123,52h1v1h-1zM124,52h1v1h-1zM125,52h1v1h-1z" fill="#ff0000" shape-rendering="crispEdges"/>
<path d="M332,45h1v1h-1zM339,45h1v1h-1zM333,46h1v1h-1zM338,46h1v1h-1zM334,47h1v1h-1zM337,47h1v1h-1zM335,48h1v1h-1zM336,48h1v1h-1zM336,49h1v1h-1zM335,49h1v1h-1zM337,50h1v1h-1zM334,50h1v1h-1zM338,51h1v1h-1zM333,51h1v1h-1zM339,52h1v1h-1zM332,52h1v1h-1z" fill="#ff0000" shape-rendering="crispEdges"/>
<path d="M399,45h1v1h-1zM400,45h1v1h-1zM401,45h1v1h-1zM402,45h1v1h-1zM398,46h1v1h-1zM403,46h1v1h-1zM397,47h1v1h-1zM404,47h1v1h-1zM397,48h1v1h-1zM404,48h1v1h-1zM397,49h1v1h-1zM404,49h1v1h-1zM397,50h1v1h-1zM404,50h1v1h-1zM398,51h1v1h-1zM403,51h1v1h-1zM399,52h1v1h-1zM400,52h1v1h-1zM401,52h1v1h-1zM402,52h1v1h-1z" fill="#ff0000" shape-rendering="crispEdges"/>
<path d="M559,45h1v1h-1zM566,45h1v1h-1zM560,46h1v1h-1zM565,46h1v1h-1zM561,47h1v1h-1zM564,47h1v1h-1zM562,48h1v1h-1zM563,48h1v1h-1zM563,49h1v1h-1zM562,49h1v1h-1zM564,50h1v1h-1zM561,50h1v1h-1zM565,51h1v1h-1zM560,51h1v1h-1zM566,52h1v1h-1zM559,52h1v1h-1z" fill="#ff0000" shape-rendering="crispEdges"/>
<line x1="462.25" y1="44.4" x2="721" y2="44.4" stroke="#ff0000" stroke-width="2" stroke-dasharray="6.2,1.8"/>
<line x1="449.5" y1="175.45" x2="721" y2="175.45" stroke="#ff0000" stroke-width="2" stroke-dasharray="6.2,1.8"/>
<line x1="549.5" y1="111.35" x2="721" y2="111.35" stroke="#1e90ff" stroke-width="2" stroke-dasharray="6.2,1.8"/>
<line x1="578.5" y1="187" x2="578.5" y2="497" stroke="#1e90ff" stroke-width="2" stroke-dasharray="6.2,1.8"/>
<text x="605.5" y="198" fill="#0000ff" style="font-family:'Noto Sans CJK TC', 'DejaVu Sans', sans-serif;font-size:21px;font-weight:300" letter-spacing="0.3">頭部頸線</text>
<g shape-rendering="crispEdges">
<rect x="0" y="0" width="800" height="1" fill="#000"/>
<rect x="0" y="0" width="1" height="600" fill="#000"/>
<rect x="798" y="0" width="2" height="600" fill="#000"/>
<rect x="0" y="598" width="800" height="2" fill="#000"/>
<rect x="721" y="0" width="1" height="433" fill="#000"/>
<rect x="0" y="413" width="798" height="1" fill="#000"/>
<rect x="0" y="433" width="721" height="1" fill="#000"/>
<rect x="721" y="433" width="77" height="2" fill="#000"/>
<rect x="721" y="433" width="2" height="167" fill="#000"/>
<rect x="797" y="433" width="1" height="167" fill="#000"/>
<rect x="721" y="597" width="77" height="1" fill="#000"/>
<rect x="722" y="70" width="4" height="1" fill="#000"/>
<rect x="723" y="83" width="1" height="1" fill="#000"/>
<rect x="723" y="97" width="2" height="1" fill="#000"/>
<rect x="723" y="110" width="1" height="1" fill="#000"/>
<rect x="722" y="124" width="4" height="1" fill="#000"/>
<rect x="723" y="137" width="1" height="1" fill="#000"/>
<rect x="723" y="151" width="2" height="1" fill="#000"/>
<rect x="723" y="164" width="1" height="1" fill="#000"/>
<rect x="722" y="178" width="4" height="1" fill="#000"/>
<rect x="723" y="191" width="1" height="1" fill="#000"/>
<rect x="723" y="205" width="2" height="1" fill="#000"/>
<rect x="723" y="218" width="1" height="1" fill="#000"/>
<rect x="722" y="232" width="4" height="1" fill="#000"/>
<rect x="723" y="245" width="1" height="1" fill="#000"/>
<rect x="723" y="259" width="2" height="1" fill="#000"/>
<rect x="723" y="272" width="1" height="1" fill="#000"/>
<rect x="722" y="286" width="4" height="1" fill="#000"/>
<rect x="723" y="299" width="1" height="1" fill="#000"/>
<rect x="723" y="313" width="2" height="1" fill="#000"/>
<rect x="723" y="326" width="1" height="1" fill="#000"/>
<rect x="722" y="340" width="4" height="1" fill="#000"/>
<rect x="723" y="353" width="1" height="1" fill="#000"/>
<rect x="723" y="367" width="2" height="1" fill="#000"/>
<rect x="723" y="380" width="1" height="1" fill="#000"/>
<rect x="722" y="394" width="4" height="1" fill="#000"/>
<rect x="723" y="481" width="3" height="1" fill="#000"/>
<rect x="723" y="494" width="1" height="1" fill="#000"/>
<rect x="723" y="507" width="2" height="1" fill="#000"/>
<rect x="723" y="520" width="1" height="1" fill="#000"/>
<rect x="723" y="533" width="3" height="1" fill="#000"/>
<rect x="723" y="546" width="1" height="1" fill="#000"/>
<rect x="723" y="559" width="2" height="1" fill="#000"/>
<rect x="723" y="572" width="1" height="1" fill="#000"/>
<rect x="723" y="585" width="3" height="1" fill="#000"/>
<rect x="42" y="413" width="1" height="20" fill="#000"/>
<rect x="75" y="414" width="1" height="5" fill="#000"/>
<rect x="156" y="414" width="1" height="5" fill="#000"/>
<rect x="221" y="414" width="1" height="5" fill="#000"/>
<rect x="302" y="414" width="1" height="5" fill="#000"/>
<rect x="383" y="414" width="1" height="5" fill="#000"/>
<rect x="465" y="414" width="1" height="5" fill="#000"/>
<rect x="627" y="414" width="1" height="5" fill="#000"/>
<rect x="172" y="414" width="1" height="9" fill="#000"/>
<rect x="546" y="414" width="1" height="9" fill="#000"/>
</g>
<g shape-rendering="crispEdges" fill="#000">
<rect x="725" y="1" width="3" height="10" fill="#000"/>
<rect x="723" y="3" width="7" height="1" fill="#000"/>
<rect x="722" y="7" width="1" height="2" fill="#000"/>
<rect x="730" y="7" width="2" height="2" fill="#000"/>
<rect x="723" y="9" width="1" height="1" fill="#000"/>
<rect x="729" y="9" width="1" height="1" fill="#000"/>
<rect x="724" y="10" width="5" height="1" fill="#000"/>
<rect x="725" y="11" width="3" height="1" fill="#000"/>
<rect x="771.5" y="0.5" width="12" height="11" fill="none" stroke="#000"/>
<rect x="779" y="0" width="1" height="12" fill="#000"/>
<rect x="771" y="7" width="8" height="1" fill="#000"/>
<rect x="771" y="1" width="13" height="1" fill="#000"/>
</g>
<defs><filter id="crispL" filterUnits="userSpaceOnUse" x="0" y="0" width="800" height="600"><feComponentTransfer><feFuncA type="discrete" tableValues="0 0 1 1 1"/></feComponentTransfer></filter><filter id="crispK" filterUnits="userSpaceOnUse" x="0" y="0" width="800" height="600"><feComponentTransfer><feFuncA type="discrete" tableValues="0 1 1"/></feComponentTransfer></filter><filter id="crispC" filterUnits="userSpaceOnUse" x="0" y="0" width="800" height="600"><feComponentTransfer><feFuncA type="discrete" tableValues="0 1"/></feComponentTransfer></filter></defs>
<g>
<svg x="0" y="0" width="721" height="60" overflow="hidden">
<g filter="url(#crispK)"><text transform="translate(2.94,17.5) scale(1.0556,1)" fill="#000" style="font-family:'Noto Serif CJK TC', 'Noto Sans CJK TC', serif;font-size:16px;font-weight:700">加權指數</text></g>
<g filter="url(#crispL)"><text x="75" y="16" fill="#000" style="font-family:'DejaVu Sans', 'Noto Sans CJK TC', sans-serif;font-size:17px;font-weight:normal;letter-spacing:0.5px">MA1</text></g>
<g filter="url(#crispL)"><text x="118" y="16" fill="#00ff00" style="font-family:'DejaVu Sans', 'Noto Sans CJK TC', sans-serif;font-size:17px;font-weight:normal;letter-spacing:0.27px">MA5:10385.70</text></g>
<g filter="url(#crispC)"><text x="246.7" y="17" fill="#00ff00" style="font-family:'Noto Sans CJK TC', 'DejaVu Sans', sans-serif;font-size:16px;font-weight:900">↓</text></g>
<g filter="url(#crispL)"><text x="261.75" y="16" fill="#0000ff" style="font-family:'DejaVu Sans', 'Noto Sans CJK TC', sans-serif;font-size:17px;font-weight:normal;letter-spacing:0.35px">MA10:10414.44</text></g>
<g filter="url(#crispC)"><text x="402" y="17" fill="#0000ff" style="font-family:'Noto Sans CJK TC', 'DejaVu Sans', sans-serif;font-size:16px;font-weight:900">↓</text></g>
<g filter="url(#crispL)"><text x="416.75" y="16" fill="#ff0000" style="font-family:'DejaVu Sans', 'Noto Sans CJK TC', sans-serif;font-size:17px;font-weight:normal;letter-spacing:0.35px">MA21:10307.13</text></g>
<g filter="url(#crispC)"><text x="557.25" y="17" fill="#ff0000" style="font-family:'Noto Sans CJK TC', 'DejaVu Sans', sans-serif;font-size:16px;font-weight:900">↑</text></g>
<g filter="url(#crispL)"><text x="571.8" y="16" fill="#ff00ff" style="font-family:'DejaVu Sans', 'Noto Sans CJK TC', sans-serif;font-size:17px;font-weight:normal;letter-spacing:0.18px">MA65:10058.27</text></g>
<g filter="url(#crispC)"><text x="712.2" y="17" fill="#ff00ff" style="font-family:'Noto Sans CJK TC', 'DejaVu Sans', sans-serif;font-size:16px;font-weight:900">↑</text></g>
<g filter="url(#crispL)"><text x="3" y="36" fill="#000" style="font-family:'DejaVu Sans', 'Noto Sans CJK TC', sans-serif;font-size:17px;font-weight:normal">100</text></g>
<g filter="url(#crispL)"><text x="40.25" y="36" fill="#000" style="font-family:'DejaVu Sans', 'Noto Sans CJK TC', sans-serif;font-size:17px;font-weight:normal;letter-spacing:0.48px">2017</text></g>
<g filter="url(#crispL)"><text x="95.9" y="36" fill="#000" style="font-family:'DejaVu Sans', 'Noto Sans CJK TC', sans-serif;font-size:17px;font-weight:normal;letter-spacing:1.2px">07</text></g>
<g filter="url(#crispL)"><text x="129.25" y="36" fill="#000" style="font-family:'DejaVu Sans', 'Noto Sans CJK TC', sans-serif;font-size:17px;font-weight:normal;letter-spacing:-0.15px">06</text></g>
<g filter="url(#crispK)"><text transform="translate(156.43,37.5) scale(1.0714,1)" fill="#000" style="font-family:'Noto Serif CJK TC', 'Noto Sans CJK TC', serif;font-size:16px;font-weight:700">開</text></g>
<g filter="url(#crispL)"><text x="173" y="36" fill="#000" style="font-family:'DejaVu Sans', 'Noto Sans CJK TC', sans-serif;font-size:17px;font-weight:normal;letter-spacing:0.21px">10380.66</text></g>
<g filter="url(#crispC)"><text x="256.7" y="37" fill="#000" style="font-family:'Noto Sans CJK TC', 'DejaVu Sans', sans-serif;font-size:16px;font-weight:900">↑</text></g>
<g filter="url(#crispK)"><text transform="translate(273.3,37.5) scale(1.1964,1)" fill="#000" style="font-family:'Noto Serif CJK TC', 'Noto Sans CJK TC', serif;font-size:16px;font-weight:700">高</text></g>
<g filter="url(#crispL)"><text x="291" y="36" fill="#000" style="font-family:'DejaVu Sans', 'Noto Sans CJK TC', sans-serif;font-size:17px;font-weight:normal;letter-spacing:0.29px">10381.20</text></g>
<g filter="url(#crispC)"><text x="374" y="37" fill="#000" style="font-family:'Noto Sans CJK TC', 'DejaVu Sans', sans-serif;font-size:16px;font-weight:900">↓</text></g>
<g filter="url(#crispK)"><text transform="translate(390.17,37.5) scale(1.0833,1)" fill="#000" style="font-family:'Noto Serif CJK TC', 'Noto Sans CJK TC', serif;font-size:16px;font-weight:700">低</text></g>
<g filter="url(#crispL)"><text x="406.75" y="36" fill="#000" style="font-family:'DejaVu Sans', 'Noto Sans CJK TC', sans-serif;font-size:17px;font-weight:normal;letter-spacing:0.29px">10336.32</text></g>
<g filter="url(#crispC)"><text x="491.75" y="37" fill="#000" style="font-family:'Noto Sans CJK TC', 'DejaVu Sans', sans-serif;font-size:16px;font-weight:900">↑</text></g>
<g filter="url(#crispK)"><text transform="translate(506.84,37.5) scale(1.1607,1)" fill="#000" style="font-family:'Noto Serif CJK TC', 'Noto Sans CJK TC', serif;font-size:16px;font-weight:700">收</text></g>
<g filter="url(#crispL)"><text x="524.25" y="36" fill="#000" style="font-family:'DejaVu Sans', 'Noto Sans CJK TC', sans-serif;font-size:17px;font-weight:normal;letter-spacing:0.29px">10368.20</text></g>
<g filter="url(#crispC)"><text x="607.25" y="37" fill="#000" style="font-family:'Noto Sans CJK TC', 'DejaVu Sans', sans-serif;font-size:16px;font-weight:900">↓</text></g>
<g filter="url(#crispK)"><text transform="translate(623.84,37.5) scale(1.1607,1)" fill="#000" style="font-family:'Noto Serif CJK TC', 'Noto Sans CJK TC', serif;font-size:16px;font-weight:700">量</text></g>
<g filter="url(#crispL)"><text x="641.5" y="36" fill="#000" style="font-family:'DejaVu Sans', 'Noto Sans CJK TC', sans-serif;font-size:17px;font-weight:normal;letter-spacing:0.17px">3981754</text></g>
</svg>
<g filter="url(#crispL)"><text x="4.4" y="449" fill="#000" style="font-family:'DejaVu Sans', 'Noto Sans CJK TC', sans-serif;font-size:17px;font-weight:normal;letter-spacing:0.43px">A-M.001</text></g>
<g filter="url(#crispK)"><text transform="translate(76.36,450.5) scale(1.1413,1)" fill="#000" style="font-family:'Noto Serif CJK TC', 'Noto Sans CJK TC', serif;font-size:16px;font-weight:600">攻擊量</text></g>
<g filter="url(#crispL)"><text x="130.25" y="449" fill="#000" style="font-family:'DejaVu Sans', 'Noto Sans CJK TC', sans-serif;font-size:17px;font-weight:normal;letter-spacing:0.7px">(5,21)</text></g>
<g filter="url(#crispK)"><text transform="translate(190.14,450.5) scale(1.1141,1)" fill="#000" style="font-family:'Noto Serif CJK TC', 'Noto Sans CJK TC', serif;font-size:16px;font-weight:600">成交量</text></g>
<g filter="url(#crispL)"><text x="243.75" y="449" fill="#000" style="font-family:'DejaVu Sans', 'Noto Sans CJK TC', sans-serif;font-size:17px;font-weight:normal">_</text></g>
<g filter="url(#crispL)"><text x="251.75" y="449" fill="#000" style="font-family:'DejaVu Sans', 'Noto Sans CJK TC', sans-serif;font-size:17px;font-weight:normal;letter-spacing:0.42px">:863</text></g>
<g filter="url(#crispC)"><text x="292.25" y="450" fill="#000" style="font-family:'Noto Sans CJK TC', 'DejaVu Sans', sans-serif;font-size:16px;font-weight:900">↑</text></g>
<g filter="url(#crispL)"><text x="306.75" y="449" fill="#000" style="font-family:'DejaVu Sans', 'Noto Sans CJK TC', sans-serif;font-size:17px;font-weight:normal;letter-spacing:0.47px">MA1:879.20</text></g>
<g filter="url(#crispC)"><text x="413" y="450" fill="#000" style="font-family:'Noto Sans CJK TC', 'DejaVu Sans', sans-serif;font-size:16px;font-weight:900">↓</text></g>
<g filter="url(#crispL)"><text x="428" y="449" fill="#000" style="font-family:'DejaVu Sans', 'Noto Sans CJK TC', sans-serif;font-size:17px;font-weight:normal;letter-spacing:0.53px">MA2:953.76</text></g>
<g filter="url(#crispC)"><text x="536" y="450" fill="#000" style="font-family:'Noto Sans CJK TC', 'DejaVu Sans', sans-serif;font-size:16px;font-weight:900">↓</text></g>
<g filter="url(#crispL)"><text x="1" y="220" fill="#000" style="font-family:'DejaVu Sans', 'Noto Sans CJK TC', sans-serif;font-size:17px;font-weight:normal;letter-spacing:0.14px">10250.60</text></g>
<g filter="url(#crispL)"><text x="61.7" y="408" fill="#000" style="font-family:'DejaVu Sans', 'Noto Sans CJK TC', sans-serif;font-size:17px;font-weight:normal;letter-spacing:0.43px">9895.65</text></g>
<g filter="url(#crispL)"><text x="501.7" y="53" fill="#000" style="font-family:'DejaVu Sans', 'Noto Sans CJK TC', sans-serif;font-size:17px;font-weight:normal;letter-spacing:0.1px">10545.70</text></g>
<g filter="url(#crispL)"><text x="44" y="429" fill="#000" style="font-family:'DejaVu Sans', 'Noto Sans CJK TC', sans-serif;font-size:17px;font-weight:normal;letter-spacing:0.33px">2017</text></g>
<g filter="url(#crispL)"><text x="173.9" y="429" fill="#000" style="font-family:'DejaVu Sans', 'Noto Sans CJK TC', sans-serif;font-size:17px;font-weight:normal;letter-spacing:0.2px">06</text></g>
<g filter="url(#crispL)"><text x="547.75" y="429" fill="#000" style="font-family:'DejaVu Sans', 'Noto Sans CJK TC', sans-serif;font-size:17px;font-weight:normal;letter-spacing:1.25px">07</text></g>
<g filter="url(#crispK)"><text transform="translate(742.79,431.5) scale(1.1034,1)" fill="#000" style="font-family:'Noto Sans CJK TC', 'DejaVu Sans', sans-serif;font-size:16px;font-weight:700">日線</text></g>
<g filter="url(#crispK)"><text transform="translate(0.94,595.5) scale(1.0595,1)" fill="#000" style="font-family:'Noto Sans CJK TC', 'DejaVu Sans', sans-serif;font-size:16px;font-weight:700">奇狐勝券</text></g>
<g filter="url(#crispL)"><text x="742" y="76" fill="#000" style="font-family:'DejaVu Sans', 'Noto Sans CJK TC', sans-serif;font-size:17px;font-weight:normal;letter-spacing:0.25px">10500</text></g>
<g filter="url(#crispL)"><text x="742" y="130" fill="#000" style="font-family:'DejaVu Sans', 'Noto Sans CJK TC', sans-serif;font-size:17px;font-weight:normal;letter-spacing:0.25px">10400</text></g>
<g filter="url(#crispL)"><text x="742" y="184" fill="#000" style="font-family:'DejaVu Sans', 'Noto Sans CJK TC', sans-serif;font-size:17px;font-weight:normal;letter-spacing:0.25px">10300</text></g>
<g filter="url(#crispL)"><text x="742" y="238" fill="#000" style="font-family:'DejaVu Sans', 'Noto Sans CJK TC', sans-serif;font-size:17px;font-weight:normal;letter-spacing:0.25px">10200</text></g>
<g filter="url(#crispL)"><text x="742" y="292" fill="#000" style="font-family:'DejaVu Sans', 'Noto Sans CJK TC', sans-serif;font-size:17px;font-weight:normal;letter-spacing:0.25px">10100</text></g>
<g filter="url(#crispL)"><text x="742" y="346" fill="#000" style="font-family:'DejaVu Sans', 'Noto Sans CJK TC', sans-serif;font-size:17px;font-weight:normal;letter-spacing:0.25px">10000</text></g>
<g filter="url(#crispL)"><text x="754" y="400" fill="#000" style="font-family:'DejaVu Sans', 'Noto Sans CJK TC', sans-serif;font-size:17px;font-weight:normal">9900</text></g>
<g filter="url(#crispL)"><text x="736.4" y="487" fill="#000" style="font-family:'DejaVu Sans', 'Noto Sans CJK TC', sans-serif;font-size:17px;font-weight:normal;letter-spacing:0.12px">1000.0</text></g>
<g filter="url(#crispL)"><text x="747.3" y="539" fill="#000" style="font-family:'DejaVu Sans', 'Noto Sans CJK TC', sans-serif;font-size:17px;font-weight:normal;letter-spacing:0.18px">500.0</text></g>
<g filter="url(#crispL)"><text x="770" y="591" fill="#000" style="font-family:'DejaVu Sans', 'Noto Sans CJK TC', sans-serif;font-size:17px;font-weight:normal">0.0</text></g>
<g filter="url(#crispL)"><text transform="translate(86,36.6) scale(1.55,1.12)" fill="#000" style="font-family:'DejaVu Sans', 'Noto Sans CJK TC', sans-serif;font-size:17px">/</text></g>
<g filter="url(#crispL)"><text transform="translate(119,36.6) scale(1.55,1.12)" fill="#000" style="font-family:'DejaVu Sans', 'Noto Sans CJK TC', sans-serif;font-size:17px">/</text></g>
</g>
</svg>
</body></html>
